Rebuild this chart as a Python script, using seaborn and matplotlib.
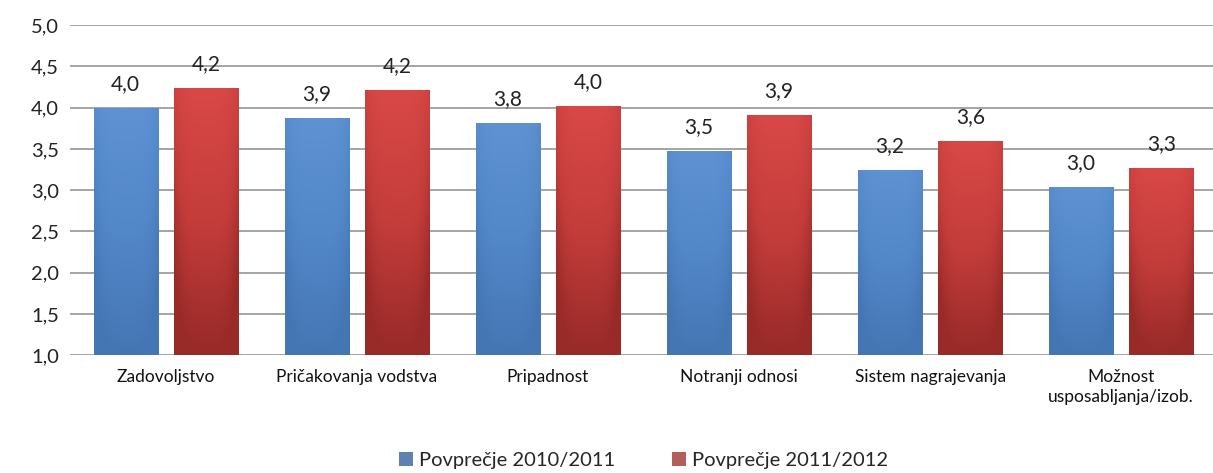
import numpy as np
import pandas as pd
import matplotlib
matplotlib.use("Agg")
import matplotlib.pyplot as plt
import seaborn as sns
from matplotlib.colors import LinearSegmentedColormap

categories = ["Zadovoljstvo", "Pričakovanja vodstva", "Pripadnost",
              "Notranji odnosi", "Sistem nagrajevanja",
              "Možnost\nusposabljanja/izob."]
series = ["Povprečje 2010/2011", "Povprečje 2011/2012"]
avg_2010 = [3.99, 3.87, 3.81, 3.48, 3.24, 3.04]
avg_2011 = [4.24, 4.21, 4.02, 3.91, 3.59, 3.27]
y_ticks = [1.0, 1.5, 2.0, 2.5, 3.0, 3.5, 4.0, 4.5, 5.0]

colors = ["#4F81BD", "#C0504D"]
grad = {
    "#4F81BD": ["#5E92D2", "#5287C8", "#4576B4"],
    "#C0504D": ["#D84846", "#C43D3B", "#982A28"],
}


def main():
    df = pd.DataFrame({
        "kategorija": categories * 2,
        "serija": [series[0]] * len(categories) + [series[1]] * len(categories),
        "vrednost": avg_2010 + avg_2011,
    })

    sns.set_style("white")
    plt.rcParams["font.family"] = ["Lato", "DejaVu Sans"]

    fig = plt.figure(figsize=(12.13, 4.73), dpi=100)
    ax = fig.add_axes([0.058, 0.249, 0.945, 0.698])

    sns.barplot(data=df, x="kategorija", y="vrednost", hue="serija",
                palette=colors, width=0.84, gap=0.2, ax=ax,
                edgecolor="none", zorder=3)

    ax.set_ylim(1.0, 5.0)
    ax.set_yticks(y_ticks)
    ax.set_yticklabels([f"{t:.1f}".replace(".", ",") for t in y_ticks],
                       fontsize=14.5, color="#222222")
    ax.yaxis.grid(True, color="#8C8C8C", linewidth=1.1, zorder=0)
    ax.set_axisbelow(True)
    for s in ax.spines.values():
        s.set_visible(False)
    ax.tick_params(axis="both", length=0)
    ax.tick_params(axis="y", pad=8)
    ax.tick_params(axis="x", pad=10)
    ax.set_xticks(range(len(categories)))
    ax.set_xticklabels(categories, fontsize=12.5, color="#111111",
                       linespacing=1.3)
    ax.set_xlabel("")
    ax.set_ylabel("")

    # gradient fill over the seaborn bars
    for cont, col in zip(ax.containers, colors):
        cmap_v = LinearSegmentedColormap.from_list("v", grad[col])
        for bar in cont:
            x0 = bar.get_x()
            w, h = bar.get_width(), bar.get_height()
            img = np.linspace(0, 1, 64).reshape(-1, 1)
            horiz = np.abs(np.linspace(-1, 1, 32)) ** 4 * 0.3
            data = np.clip(img + horiz, 0, 1)
            im = ax.imshow(data, cmap=cmap_v, aspect="auto",
                           extent=(x0, x0 + w, 1.0, h), origin="upper",
                           zorder=3.5, interpolation="bilinear")
            im.set_clip_path(bar)
        labels = [f"{v:.1f}".replace(".", ",") for v in cont.datavalues]
        ax.bar_label(cont, labels=labels, padding=10, fontsize=15,
                     color="#222222")
    ax.set_xlim(-0.5, len(categories) - 0.5)
    ax.set_ylim(1.0, 5.0)

    handles, lbls = ax.get_legend_handles_labels()
    ax.legend(handles, lbls, loc="center", bbox_to_anchor=(0.5, -0.318),
              ncol=2, frameon=False, fontsize=14.5, handlelength=0.7,
              handleheight=0.7, handletextpad=0.3, columnspacing=2.8)

    fig.savefig("out.png", dpi=100)


if __name__ == "__main__":
    main()
